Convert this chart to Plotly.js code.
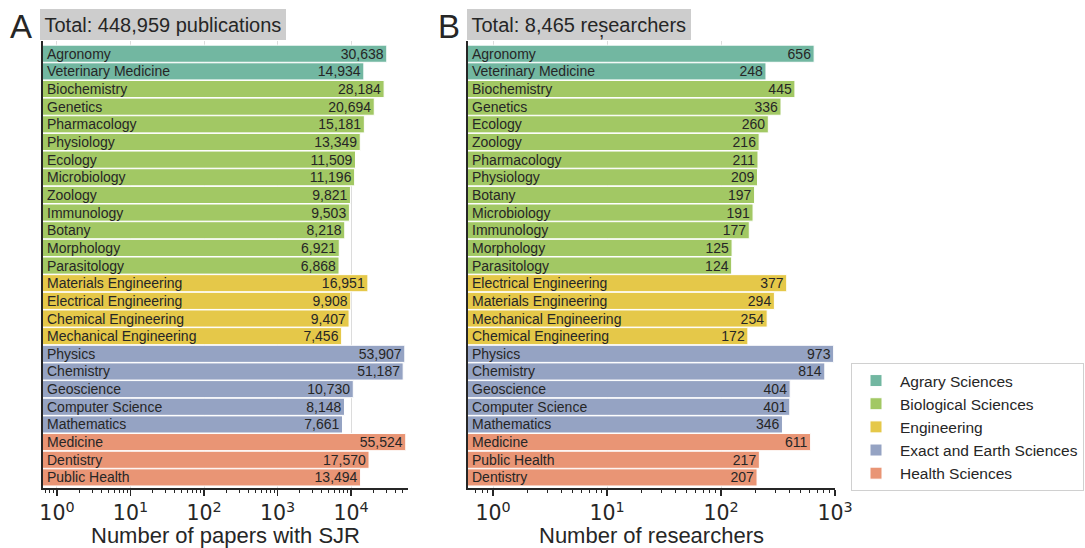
<!DOCTYPE html>
<html>
<head>
<meta charset="utf-8">
<script src="https://cdn.plot.ly/plotly-3.0.1.min.js"></script>
<style>html,body{margin:0;padding:0;background:#fff;}#chart{width:1085px;height:548px;}</style>
</head>
<body>
<div id="chart"></div>
<script>
// ---- Data ----
const groups = ["Agrary Sciences", "Biological Sciences", "Engineering", "Exact and Earth Sciences", "Health Sciences"];
const groupColors = ["#72b7a1", "#a2c864", "#e5c849", "#95a3c3", "#e99575"];

// Panel A: publications
const pubCategories = ["Agronomy", "Veterinary Medicine",
  "Biochemistry", "Genetics", "Pharmacology", "Physiology", "Ecology", "Microbiology", "Zoology", "Immunology", "Botany", "Morphology", "Parasitology",
  "Materials Engineering", "Electrical Engineering", "Chemical Engineering", "Mechanical Engineering",
  "Physics", "Chemistry", "Geoscience", "Computer Science", "Mathematics",
  "Medicine", "Dentistry", "Public Health"];
const pubValues = [30638, 14934,
  28184, 20694, 15181, 13349, 11509, 11196, 9821, 9503, 8218, 6921, 6868,
  16951, 9908, 9407, 7456,
  53907, 51187, 10730, 8148, 7661,
  55524, 17570, 13494];
const pubGroups = [0,0, 1,1,1,1,1,1,1,1,1,1,1, 2,2,2,2, 3,3,3,3,3, 4,4,4];

// Panel B: researchers
const resCategories = ["Agronomy", "Veterinary Medicine",
  "Biochemistry", "Genetics", "Ecology", "Zoology", "Pharmacology", "Physiology", "Botany", "Microbiology", "Immunology", "Morphology", "Parasitology",
  "Electrical Engineering", "Materials Engineering", "Mechanical Engineering", "Chemical Engineering",
  "Physics", "Chemistry", "Geoscience", "Computer Science", "Mathematics",
  "Medicine", "Public Health", "Dentistry"];
const resValues = [656, 248,
  445, 336, 260, 216, 211, 209, 197, 191, 177, 125, 124,
  377, 294, 254, 172,
  973, 814, 404, 401, 346,
  611, 217, 207];
const resGroups = [0,0, 1,1,1,1,1,1,1,1,1,1,1, 2,2,2,2, 3,3,3,3,3, 4,4,4];

const pubTickVals = [1, 10, 100, 1000, 10000];
const pubTickText = ["10<sup>0</sup>", "10<sup>1</sup>", "10<sup>2</sup>", "10<sup>3</sup>", "10<sup>4</sup>"];
const resTickVals = [1, 10, 100, 1000];
const resTickText = ["10<sup>0</sup>", "10<sup>1</sup>", "10<sup>2</sup>", "10<sup>3</sup>"];

const pubTitle = "Total: 448,959 publications";
const resTitle = "Total: 8,465 researchers";

// ---- Traces ----
const W = 1085, H = 548;
const dark = "#262626";
const sans = "Liberation Sans, Arial, sans-serif";
const traces = [];
const annotations = [];
function addPanel(cats, vals, grps, xa, ya, showLegend) {
  groups.forEach((g, gi) => {
    const ys = [], xs = [];
    cats.forEach((c, i) => { if (grps[i] === gi) { ys.push(c); xs.push(vals[i]); } });
    traces.push({
      type: "bar", orientation: "h", x: xs, y: ys, xaxis: xa, yaxis: ya,
      name: g, legendgroup: g, showlegend: showLegend,
      marker: {color: groupColors[gi], line: {color: "#ffffff", width: 1}},
      width: 0.97,
      texttemplate: "%{x:,}", textposition: "inside", insidetextanchor: "end",
      textangle: 0, constraintext: "none",
      insidetextfont: {family: sans, size: 14, color: dark},
      hoverinfo: "x+y"
    });
  });
  cats.forEach(c => {
    annotations.push({
      text: c, xref: xa + " domain", yref: ya, x: 0, y: c, xanchor: "left", yanchor: "middle",
      xshift: 2, showarrow: false, font: {family: sans, size: 14, color: dark}
    });
  });
}
addPanel(pubCategories, pubValues, pubGroups, "x", "y", true);
addPanel(resCategories, resValues, resGroups, "x2", "y2", false);

function minorVals(maxDecade) {
  const v = [];
  for (let d = -1; d <= maxDecade; d++) for (let m = 2; m <= 9; m++) v.push(m * Math.pow(10, d));
  return v;
}

const yDom = [1 - 488 / H, 1 - 41 / H];
const tickFont = {family: "DejaVu Sans, sans-serif", size: 20.5, color: dark};
const titleFont = {family: sans, size: 22, color: dark};

function xAxis(range, tv, tt, title, dom, anchor, maxDec) {
  return {
    type: "log", range: range, domain: dom, anchor: anchor,
    tickmode: "array", tickvals: tv, ticktext: tt, tickfont: tickFont,
    ticks: "outside", ticklen: 6, tickwidth: 1.2, tickcolor: dark,
    minor: {tickmode: "array", tickvals: minorVals(maxDec), ticks: "outside", ticklen: 3, tickwidth: 1, tickcolor: dark, showgrid: false},
    showline: true, linecolor: dark, linewidth: 1.6,
    showgrid: true, gridcolor: "#dcdcdc", gridwidth: 1,
    zeroline: false,
    title: {text: title, font: titleFont, standoff: 5}
  };
}
function yAxis(cats, dom, anchor) {
  return {
    type: "category", categoryorder: "array", categoryarray: cats,
    range: [cats.length - 0.4, -0.72], domain: dom, anchor: anchor,
    showticklabels: false, ticks: "", showgrid: false, zeroline: false,
    showline: true, linecolor: dark, linewidth: 2
  };
}

annotations.push(
  {text: "A", xref: "paper", yref: "paper", x: 8 / W, y: 1 - 27 / H, xanchor: "left", yanchor: "middle",
   showarrow: false, font: {family: sans, size: 33, color: dark}},
  {text: "B", xref: "paper", yref: "paper", x: 436 / W, y: 1 - 27 / H, xanchor: "left", yanchor: "middle",
   showarrow: false, font: {family: sans, size: 33, color: dark}},
  {text: pubTitle, xref: "paper", yref: "paper", x: 40 / W, y: 1 - 24.5 / H, xanchor: "left", yanchor: "middle",
   showarrow: false, bgcolor: "#cdcdcd", bordercolor: "#cdcdcd", borderpad: 3.5,
   font: {family: sans, size: 20, color: dark}},
  {text: resTitle, xref: "paper", yref: "paper", x: 467 / W, y: 1 - 24.5 / H, xanchor: "left", yanchor: "middle",
   showarrow: false, bgcolor: "#cdcdcd", bordercolor: "#cdcdcd", borderpad: 3.5,
   font: {family: sans, size: 20, color: dark}},
  {text: ",", xref: "paper", yref: "paper", x: 601 / W, y: 1 - 31 / H, xanchor: "center", yanchor: "middle",
   showarrow: false, font: {family: sans, size: 19, color: dark}}
);

const layout = {
  width: W, height: H,
  margin: {l: 0, r: 0, t: 0, b: 0, autoexpand: false},
  paper_bgcolor: "#ffffff", plot_bgcolor: "#ffffff",
  bargap: 0,
  font: {family: sans, color: dark},
  xaxis: xAxis([-0.19, 4.775], pubTickVals, pubTickText, "Number of papers with SJR", [43 / W, 408 / W], "y", 4),
  yaxis: yAxis(pubCategories, yDom, "x"),
  xaxis2: xAxis([-0.22, 3.0], resTickVals, resTickText, "Number of researchers", [468 / W, 835 / W], "y2", 2),
  yaxis2: yAxis(resCategories, yDom, "x2"),
  showlegend: true,
  legend: {
    x: 851 / W, y: 1 - 363 / H, xanchor: "left", yanchor: "top",
    bordercolor: "#d0d0d0", borderwidth: 1, bgcolor: "#ffffff",
    font: {family: sans, size: 15.5, color: dark},
    tracegroupgap: 0, traceorder: "normal", itemwidth: 38
  },
  annotations: annotations
};

Plotly.newPlot("chart", traces, layout, {displayModeBar: false, staticPlot: true});
</script>
</body>
</html>
